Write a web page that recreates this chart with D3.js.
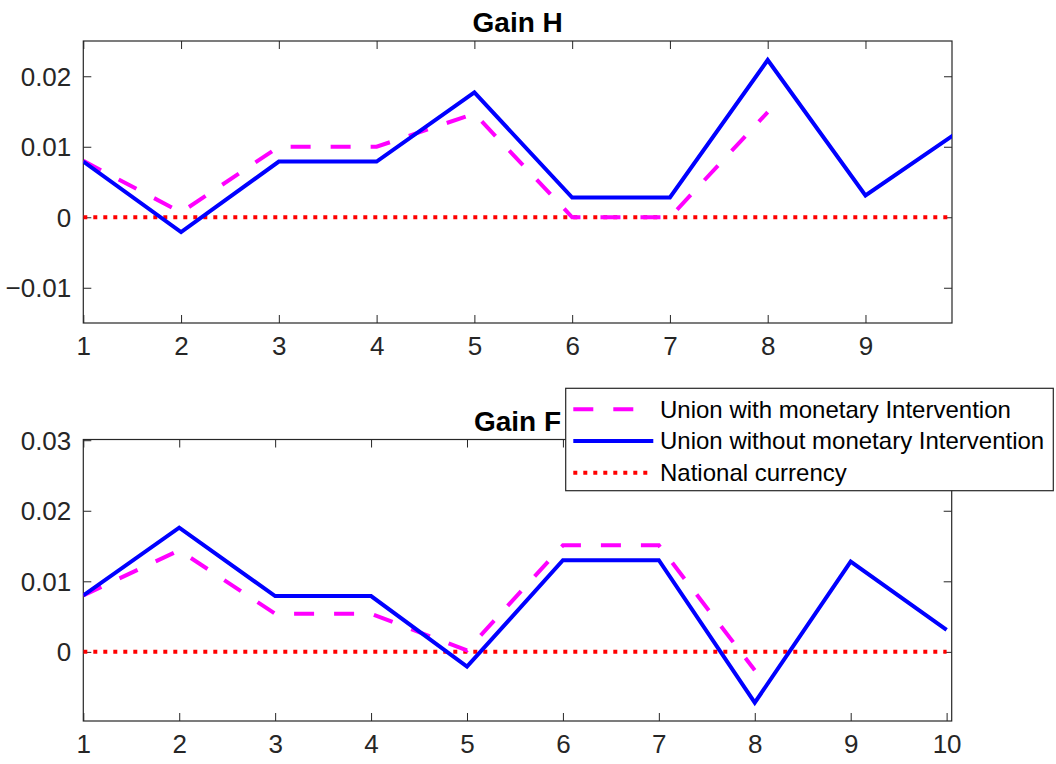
<!DOCTYPE html>
<html>
<head>
<meta charset="utf-8">
<script src="https://cdn.jsdelivr.net/npm/d3@7"></script>
<style>
  html, body { margin: 0; padding: 0; background: #fff; }
  svg { display: block; font-family: "Liberation Sans", Arial, Helvetica, sans-serif; }
</style>
</head>
<body>
<svg id="chart" width="1056" height="764"></svg>
<script>
// Periods on the horizontal axis
const periods = [1, 2, 3, 4, 5, 6, 7, 8, 9, 10];

// Gain of country H
const gainHWith    = [0.0080, 0.0007, 0.0100, 0.0100, 0.0147, 0.0000, 0.0000, 0.0149];
const gainHWithout = [0.0079, -0.0021, 0.0079, 0.0079, 0.0177, 0.0028, 0.0028, 0.0223, 0.0031, 0.0126];
const gainHNational = [0, 0, 0, 0, 0, 0, 0, 0, 0, 0];

// Gain of country F
const gainFWith    = [0.0080, 0.0144, 0.0054, 0.0054, 0.0002, 0.0151, 0.0151, -0.0026];
const gainFWithout = [0.0080, 0.0176, 0.0079, 0.0079, -0.0021, 0.0130, 0.0130, -0.0072, 0.0128, 0.0031];
const gainFNational = [0, 0, 0, 0, 0, 0, 0, 0, 0, 0];

// Tick labels
const xTicksH = [1, 2, 3, 4, 5, 6, 7, 8, 9];
const xTicksF = [1, 2, 3, 4, 5, 6, 7, 8, 9, 10];
const yTicksH = [-0.01, 0, 0.01, 0.02];
const yTicksF = [0, 0.01, 0.02, 0.03];

const seriesNames = [
  "Union with monetary Intervention",
  "Union without monetary Intervention",
  "National currency"
];

const AXIS = "#262626";
const styles = [
  { color: "#ff00ff", dash: "20,20", width: 4 },
  { color: "#0000ff", dash: null, width: 4 },
  { color: "#ff0000", dash: "4,6", width: 4 }
];

const svg = d3.select("#chart");

function panel(cfg) {
  const { id, box, xDomain, yDomain, xTicks, yTicks, title, series } = cfg;
  const x = d3.scaleLinear().domain(xDomain).range([box.left, box.right]);
  const y = d3.scaleLinear().domain(yDomain).range([box.bottom, box.top]);
  const g = svg.append("g");

  g.append("clipPath").attr("id", id)
    .append("rect")
    .attr("x", box.left).attr("y", box.top)
    .attr("width", box.right - box.left).attr("height", box.bottom - box.top);

  // Axes with inward ticks on all four sides
  const tick = 8;
  const axisFont = "26px";
  const bottomAxis = d3.axisBottom(x).tickValues(xTicks).tickSize(-tick).tickPadding(14).tickFormat(d3.format("d"));
  const topAxis = d3.axisTop(x).tickValues(xTicks).tickSize(-tick).tickFormat("");
  const leftAxis = d3.axisLeft(y).tickValues(yTicks).tickSize(-tick).tickPadding(12)
    .tickFormat(d => d === 0 ? "0" : d3.format(".2f")(d));
  const rightAxis = d3.axisRight(y).tickValues(yTicks).tickSize(-tick).tickFormat("");

  const gb = g.append("g").attr("transform", `translate(0,${box.bottom})`).call(bottomAxis);
  const gt = g.append("g").attr("transform", `translate(0,${box.top})`).call(topAxis);
  const gl = g.append("g").attr("transform", `translate(${box.left},0)`).call(leftAxis);
  const gr = g.append("g").attr("transform", `translate(${box.right},0)`).call(rightAxis);
  [gb, gt, gl, gr].forEach(a => {
    a.select(".domain").remove();
    a.selectAll("line").attr("stroke", AXIS).attr("stroke-width", 1);
    a.selectAll("text").attr("fill", AXIS).style("font-size", axisFont)
      .attr("font-family", "Liberation Sans, Arial, sans-serif");
  });
  gb.selectAll("text").attr("dy", "0.71em").attr("y", 14);
  gl.selectAll("text").attr("dy", "0.35em");

  // Frame
  g.append("rect")
    .attr("x", box.left).attr("y", box.top)
    .attr("width", box.right - box.left).attr("height", box.bottom - box.top)
    .attr("fill", "none").attr("stroke", AXIS).attr("stroke-width", 1.2);

  // Series lines
  const line = d3.line().x((d, i) => x(periods[i])).y(d => y(d));
  const plot = g.append("g").attr("clip-path", `url(#${id})`);
  // national currency underneath, then the two union paths
  [2, 0, 1].forEach(k => {
    const s = styles[k];
    plot.append("path")
      .datum(series[k])
      .attr("d", line)
      .attr("fill", "none")
      .attr("stroke", s.color)
      .attr("stroke-width", s.width)
      .attr("stroke-dasharray", s.dash)
      .attr("stroke-linejoin", "miter")
      .attr("stroke-linecap", "butt");
  });

  // Title
  g.append("text")
    .attr("x", (box.left + box.right) / 2)
    .attr("y", box.top - 9)
    .attr("text-anchor", "middle")
    .attr("font-weight", "bold")
    .style("font-size", "28px")
    .attr("fill", "#000")
    .text(title);
}

panel({
  id: "clipH",
  box: { left: 83.3, right: 952, top: 41, bottom: 323 },
  xDomain: [1, 9.885],
  yDomain: [-0.015, 0.025],
  xTicks: xTicksH,
  yTicks: yTicksH,
  title: "Gain H",
  series: [gainHWith, gainHWithout, gainHNational]
});

panel({
  id: "clipF",
  box: { left: 83.3, right: 951.7, top: 439.5, bottom: 721 },
  xDomain: [1, 10.053],
  yDomain: [-0.0098, 0.0301],
  xTicks: xTicksF,
  yTicks: yTicksF,
  title: "Gain F",
  series: [gainFWith, gainFWithout, gainFNational]
});

// Legend
const lg = svg.append("g");
const lx = 565.7, ly = 388.3, lw = 487.6, lh = 102.4;
lg.append("rect").attr("x", lx).attr("y", ly).attr("width", lw).attr("height", lh)
  .attr("fill", "#fff").attr("stroke", AXIS).attr("stroke-width", 1.2);
const rowY = [409.3, 441, 472.7];
seriesNames.forEach((name, k) => {
  const s = styles[k];
  lg.append("line")
    .attr("x1", 573.3).attr("x2", k === 2 ? 650 : 653.3)
    .attr("y1", rowY[k]).attr("y2", rowY[k])
    .attr("stroke", s.color).attr("stroke-width", s.width)
    .attr("stroke-dasharray", s.dash);
  lg.append("text")
    .attr("x", 660).attr("y", rowY[k]).attr("dy", "0.35em")
    .style("font-size", "24px").attr("fill", "#000")
    .text(name);
});
</script>
</body>
</html>
